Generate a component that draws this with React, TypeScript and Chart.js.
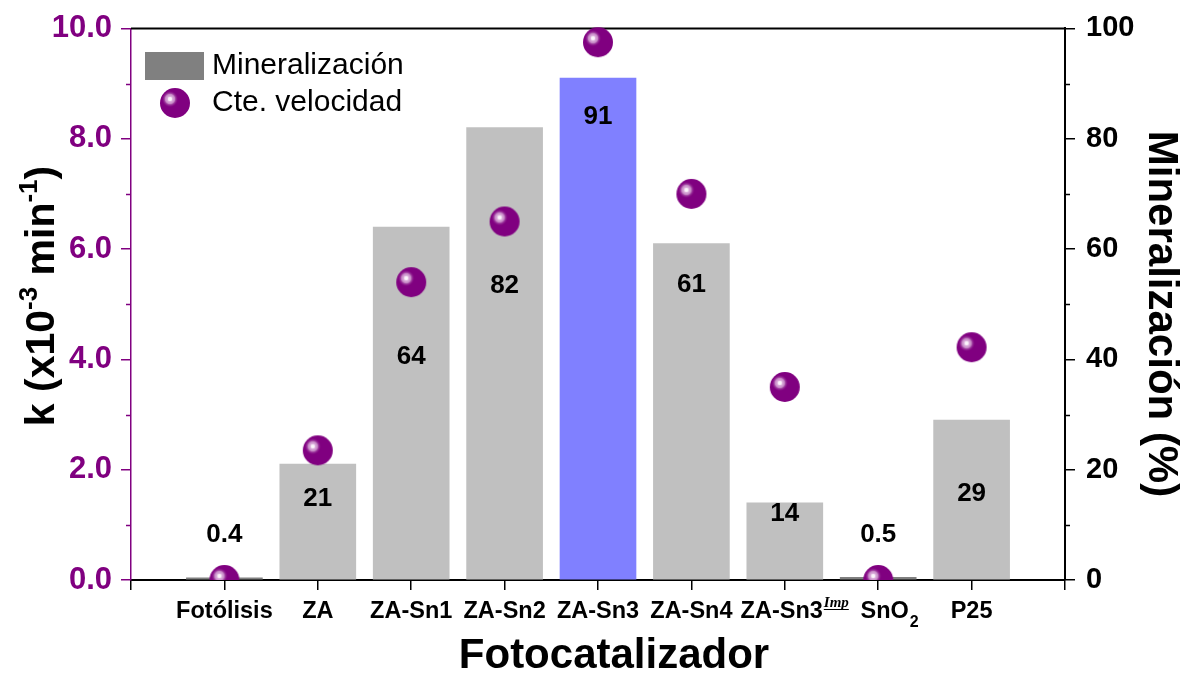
import React, { useEffect, useRef } from "react";
import { Chart, registerables } from "chart.js";

Chart.register(...registerables);

const categories = ["Fotólisis", "ZA", "ZA-Sn1", "ZA-Sn2", "ZA-Sn3", "ZA-Sn4", "ZA-Sn3", "SnO", "P25"];
const categorySup = ["", "", "", "", "", "", "Imp", "", ""];
const categorySub = ["", "", "", "", "", "", "", "2", ""];
const mineralizacion = [0.4, 21, 64, 82, 91, 61, 14, 0.5, 29];
const mineralizacionLabels = ["0.4", "21", "64", "82", "91", "61", "14", "0.5", "29"];
const labelAnchor = [8.2, 14.8, 40.4, 53.3, 83.9, 53.6, 12.0, 8.2, 15.6];
const kVelocidad = [0, 2.35, 5.4, 6.5, 9.75, 7.0, 3.5, 0, 4.22];
const leftTicksMinor = [1, 3, 5, 7, 9];
const rightTicksMinor = [10, 30, 50, 70, 90];

const FONT = "'Liberation Sans', Arial, Helvetica, sans-serif";
const PURPLE = "#800080";

function makeSphere(r: number): HTMLCanvasElement {
  const c = document.createElement("canvas");
  const s = r * 2 + 2;
  c.width = s;
  c.height = s;
  const g = c.getContext("2d")!;
  const cx = s / 2, cy = s / 2;
  g.fillStyle = PURPLE;
  g.beginPath();
  g.arc(cx, cy, r, 0, Math.PI * 2);
  g.fill();
  const hx = cx - 5, hy = cy - 4;
  const grad = g.createRadialGradient(hx, hy, 0, hx, hy, 8.5);
  grad.addColorStop(0, "#ffffff");
  grad.addColorStop(0.22, "#f6e8f6");
  grad.addColorStop(0.3, "#dcb0dc");
  grad.addColorStop(0.55, "#c486c4");
  grad.addColorStop(0.65, "#a448a4");
  grad.addColorStop(1, "rgba(128,0,128,0)");
  g.fillStyle = grad;
  g.beginPath();
  g.arc(hx, hy, 8.5, 0, Math.PI * 2);
  g.fill();
  return c;
}

export default function App() {
  const ref = useRef<HTMLCanvasElement>(null);

  useEffect(() => {
    const sphere = makeSphere(15);

    const topLine = {
      id: "topLine",
      beforeDatasetsDraw(chart: any) {
        const { ctx, chartArea } = chart;
        ctx.save();
        ctx.strokeStyle = "#000";
        ctx.lineWidth = 2;
        ctx.beginPath();
        ctx.moveTo(chartArea.left, chartArea.top);
        ctx.lineTo(chartArea.right, chartArea.top);
        ctx.stroke();
        ctx.restore();
      },
    };

    const overlay = {
      id: "overlay",
      afterDatasetsDraw(chart: any) {
        const { ctx, chartArea, scales } = chart;
        const xs = scales.x, ys = scales.y, y1 = scales.y1;
        ctx.save();

        // minor ticks
        ctx.lineWidth = 1.5;
        ctx.strokeStyle = PURPLE;
        leftTicksMinor.forEach((v) => {
          const py = Math.round(ys.getPixelForValue(v)) + 0.5;
          ctx.beginPath();
          ctx.moveTo(chartArea.left - 5, py);
          ctx.lineTo(chartArea.left, py);
          ctx.stroke();
        });
        ctx.strokeStyle = "#000";
        rightTicksMinor.forEach((v) => {
          const py = Math.round(y1.getPixelForValue(v)) + 0.5;
          ctx.beginPath();
          ctx.moveTo(chartArea.right, py);
          ctx.lineTo(chartArea.right + 5, py);
          ctx.stroke();
        });

        // value labels
        ctx.fillStyle = "#000";
        ctx.font = `bold 26px ${FONT}`;
        ctx.textAlign = "center";
        ctx.textBaseline = "middle";
        mineralizacionLabels.forEach((t, i) => {
          ctx.fillText(t, xs.getPixelForValue(i + 1), y1.getPixelForValue(labelAnchor[i]));
        });

        // category labels
        ctx.textBaseline = "alphabetic";
        const base = 618;
        const mainFontX = `bold 23.5px ${FONT}`;
        const supFontX = `italic bold 15px 'Liberation Serif', 'Times New Roman', serif`;
        const subFontX = `bold 16px ${FONT}`;
        categories.forEach((t, i) => {
          const cx = xs.getPixelForValue(i + 1);
          ctx.font = mainFontX;
          const w = ctx.measureText(t).width;
          let start = cx - w / 2;
          let sw = 0;
          let bw = 0;
          if (categorySup[i]) {
            ctx.font = supFontX;
            sw = ctx.measureText(categorySup[i]).width;
            start -= sw / 8;
          }
          if (categorySub[i]) {
            ctx.font = subFontX;
            bw = ctx.measureText(categorySub[i]).width;
            start += bw / 2 + 2;
          }
          ctx.font = mainFontX;
          ctx.textAlign = "left";
          ctx.fillText(t, start, base);
          if (categorySup[i]) {
            ctx.font = supFontX;
            ctx.fillText(categorySup[i], start + w + 1, base - 11);
            ctx.lineWidth = 1;
            ctx.beginPath();
            ctx.moveTo(start + w + 1, base - 8.5);
            ctx.lineTo(start + w + 1 + sw, base - 8.5);
            ctx.stroke();
          }
          if (categorySub[i]) {
            ctx.font = subFontX;
            ctx.fillText(categorySub[i], start + w + 1, base + 9);
          }
        });

        // x title
        ctx.textAlign = "center";
        ctx.font = `bold 42px ${FONT}`;
        ctx.fillText("Fotocatalizador", 614, 668);

        // left title (rotated) with superscripts
        const parts: [string, boolean][] = [
          ["k (x10", false],
          ["-3", true],
          [" min", false],
          ["-1", true],
          [")", false],
        ];
        const mainFont = `bold 41px ${FONT}`;
        const supFont = `bold 26px ${FONT}`;
        let total = 0;
        parts.forEach(([t, sup]) => {
          ctx.font = sup ? supFont : mainFont;
          total += ctx.measureText(t).width;
        });
        ctx.save();
        ctx.translate(54, 296);
        ctx.rotate(-Math.PI / 2);
        ctx.textAlign = "left";
        let px = -total / 2;
        parts.forEach(([t, sup]) => {
          ctx.font = sup ? supFont : mainFont;
          ctx.fillText(t, px, sup ? -17 : 0);
          px += ctx.measureText(t).width;
        });
        ctx.restore();

        // right title
        ctx.save();
        ctx.translate(1149, 314);
        ctx.rotate(Math.PI / 2);
        ctx.textAlign = "center";
        ctx.font = `bold 42px ${FONT}`;
        ctx.fillText("Mineralización (%)", 0, 0);
        ctx.restore();

        // legend
        ctx.fillStyle = "#808080";
        ctx.fillRect(145, 52, 59, 28);
        ctx.drawImage(sphere, 175 - sphere.width / 2, 103 - sphere.height / 2);
        ctx.fillStyle = "#000";
        ctx.font = `30px ${FONT}`;
        ctx.textAlign = "left";
        ctx.textBaseline = "middle";
        ctx.fillText("Mineralización", 212, 66);
        ctx.fillText("Cte. velocidad", 212, 103);

        ctx.restore();
      },
    };

    const chart = new Chart(ref.current!, {
      type: "bar",
      data: {
        datasets: [
          {
            type: "scatter",
            label: "Cte. velocidad",
            data: kVelocidad.map((v, i) => ({ x: i + 1, y: v })),
            yAxisID: "y",
            xAxisID: "x",
            pointStyle: sphere as any,
            order: 1,
            clip: { left: 0, right: 0, top: 20, bottom: 0 } as any,
          } as any,
          {
            type: "bar",
            label: "Mineralización",
            data: mineralizacion.map((v, i) => ({ x: i + 1, y: v })),
            yAxisID: "y1",
            xAxisID: "x",
            backgroundColor: mineralizacion.map((v, i) => (i === 4 ? "#8080ff" : v < 1 ? "#808080" : "#c0c0c0")),
            borderWidth: 0,
            barThickness: 76,
            order: 2,
          } as any,
        ],
      },
      options: {
        responsive: false,
        animation: false,
        layout: { padding: { top: 28, left: 0, right: 0, bottom: 0 } },
        plugins: { legend: { display: false }, tooltip: { enabled: false } },
        scales: {
          x: {
            type: "linear",
            position: "bottom",
            min: 0,
            max: 10,
            offset: false,
            ticks: { stepSize: 1, display: false },
            grid: { offset: false, drawOnChartArea: false, drawTicks: true, tickLength: 10, color: "#000", lineWidth: 1.5 },
            border: { color: "#000", width: 2 },
            afterFit: (s: any) => { s.height = 97; },
          } as any,
          y: {
            position: "left",
            min: 0,
            max: 10,
            ticks: {
              stepSize: 2,
              padding: 9,
              color: PURPLE,
              font: { family: FONT, weight: "bold", size: 31 },
              callback: (v: any) => Number(v).toFixed(1),
            },
            grid: { drawOnChartArea: false, drawTicks: true, tickLength: 10, color: PURPLE, lineWidth: 1.5 },
            border: { color: PURPLE, width: 1.5 },
            afterFit: (s: any) => { s.width = 131; },
          } as any,
          y1: {
            position: "right",
            min: 0,
            max: 100,
            ticks: {
              stepSize: 20,
              padding: 11,
              color: "#000",
              font: { family: FONT, weight: "bold", size: 29 },
            },
            grid: { drawOnChartArea: false, drawTicks: true, tickLength: 10, color: "#000", lineWidth: 1.5 },
            border: { color: "#000", width: 2 },
            afterFit: (s: any) => { s.width = 118; },
          } as any,
        },
      },
      plugins: [topLine, overlay],
    });

    return () => chart.destroy();
  }, []);

  return (
    <div style={{ position: "fixed", left: 0, top: 0, width: 1183, height: 677, background: "#fff" }}>
      <canvas ref={ref} width={1183} height={677} style={{ display: "block" }} />
    </div>
  );
}
